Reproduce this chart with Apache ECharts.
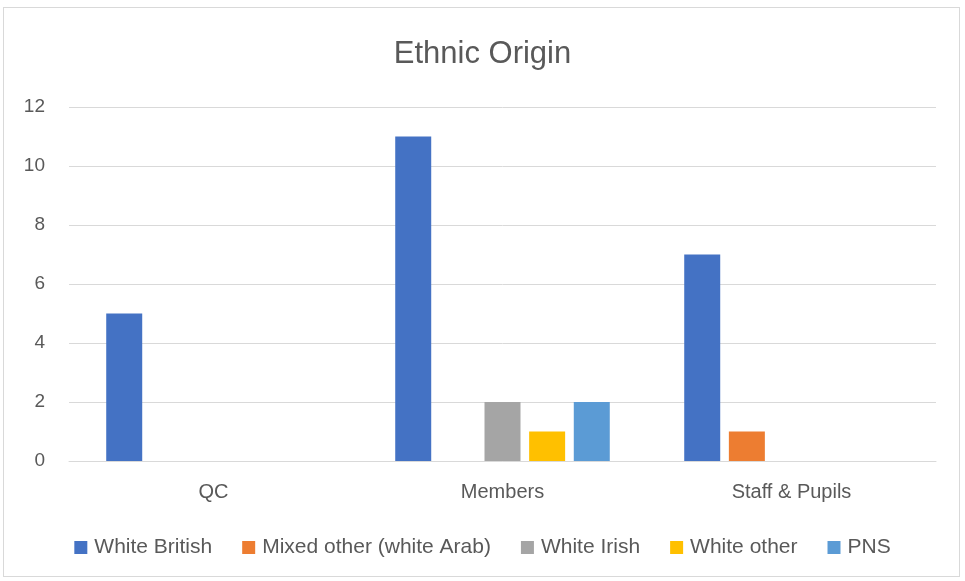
<!DOCTYPE html>
<html>
<head>
<meta charset="utf-8">
<script src="https://cdn.jsdelivr.net/npm/echarts@6/dist/echarts.min.js"></script>
<style>
html,body{margin:0;padding:0;background:#fff;}
#wrap{position:absolute;left:3px;top:7px;width:957px;height:570px;border:1px solid #d9d9d9;box-sizing:border-box;}
#c{position:absolute;left:0;top:0;width:965px;height:581px;}
</style>
</head>
<body>
<div id="wrap"></div>
<div id="c"></div>
<script>
const categories = ['QC', 'Members', 'Staff & Pupils'];
const seriesNames = ['White British', 'Mixed other (white Arab)', 'White Irish', 'White other', 'PNS'];
const whiteBritish = [5, 11, 7];
const mixedOther = [0, 0, 1];
const whiteIrish = [0, 2, 0];
const whiteOther = [0, 1, 0];
const pns = [0, 2, 0];
const colors = ['#4472C4', '#ED7D31', '#A5A5A5', '#FFC000', '#5B9BD5'];
const values = [whiteBritish, mixedOther, whiteIrish, whiteOther, pns];
const font = '"Liberation Sans", Arial, sans-serif';

const chart = echarts.init(document.getElementById('c'));
chart.setOption({
  animation: false,
  title: {
    text: 'Ethnic Origin', left: 'center', top: 34,
    textStyle: {fontFamily: font, fontSize: 31, fontWeight: 'normal', color: '#595959'}
  },
  legend: {
    top: 532, left: 'center', itemWidth: 13, itemHeight: 13, itemGap: 30,
    icon: 'rect',
    textStyle: {fontFamily: font, fontSize: 21, color: '#595959', padding: [0, 0, 0, 2]},
    data: seriesNames
  },
  grid: {left: 69, right: 29, top: 107, bottom: 120},
  xAxis: {
    type: 'category', data: categories,
    axisLine: {show: true, lineStyle: {color: '#d9d9d9', width: 1}},
    axisTick: {show: false},
    axisLabel: {fontFamily: font, fontSize: 20, color: '#595959', margin: 21}
  },
  yAxis: {
    type: 'value', min: 0, max: 12, interval: 2,
    axisLine: {show: false}, axisTick: {show: false},
    splitLine: {lineStyle: {color: '#d9d9d9', width: 1}},
    axisLabel: {fontFamily: font, fontSize: 19, color: '#595959', margin: 24}
  },
  series: seriesNames.map((n, i) => ({
    name: n, type: 'bar', data: values[i], barWidth: 36, barGap: '24%',
    itemStyle: {color: colors[i]}
  }))
});
</script>
</body>
</html>
